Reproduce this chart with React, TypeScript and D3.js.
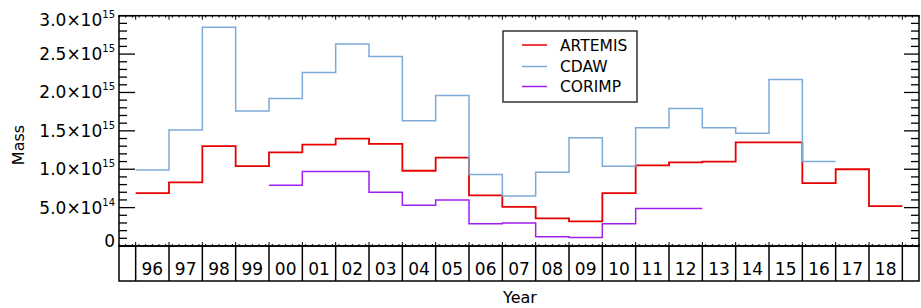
import * as d3 from "d3";
import React from "react";

// mass in units of 1e15, one value per year
const yearLabels = ["96", "97", "98", "99", "00", "01", "02", "03", "04", "05", "06", "07",
  "08", "09", "10", "11", "12", "13", "14", "15", "16", "17", "18"];
const firstYear = 1996;

const artemisStart = 1996;
const artemis = [0.69, 0.83, 1.30, 1.04, 1.22, 1.32, 1.40, 1.33, 0.98, 1.15, 0.66, 0.51,
  0.36, 0.32, 0.69, 1.05, 1.09, 1.10, 1.35, 1.35, 0.82, 1.00, 0.52];

const cdawStart = 1996;
const cdaw = [0.99, 1.51, 2.85, 1.76, 1.92, 2.26, 2.63, 2.47, 1.63, 1.96, 0.93, 0.65,
  0.96, 1.41, 1.04, 1.54, 1.79, 1.54, 1.47, 2.17, 1.10];

const corimpStart = 2000;
const corimp = [0.79, 0.97, 0.97, 0.70, 0.53, 0.60, 0.29, 0.30, 0.12, 0.11, 0.29, 0.49, 0.49];

const yTicks = [0, 0.5, 1.0, 1.5, 2.0, 2.5, 3.0];
const yTickText: [string, string][] = [
  ["0", ""], ["5.0×10", "14"], ["1.0×10", "15"], ["1.5×10", "15"],
  ["2.0×10", "15"], ["2.5×10", "15"], ["3.0×10", "15"]
];

const series = [
  { name: "ARTEMIS", start: artemisStart, values: artemis, color: "#e60000", width: 1.8 },
  { name: "CDAW", start: cdawStart, values: cdaw, color: "#7eaad8", width: 1.5 },
  { name: "CORIMP", start: corimpStart, values: corimp, color: "#a020f0", width: 1.5 }
];

export default function App() {
  const width = 921;
  const height = 308;
  const left = 119;
  const right = 919;
  const top = 15.7;
  const bottom = 246;
  const boxBottom = 281;
  const font = "'DejaVu Sans', sans-serif";

  const x = d3.scaleLinear().domain([firstYear - 1, firstYear + yearLabels.length]).range([left, right]);
  const y = d3.scaleLinear().domain([0, 3.0]).range([bottom, top]);

  const line = d3
    .line<{ x: number; v: number }>()
    .x((d) => x(d.x))
    .y((d) => y(d.v))
    .curve(d3.curveStepAfter);

  const stepPoints = (start: number, values: number[]) => {
    const pts = values.map((v, i) => ({ x: start + i - 0.5, v }));
    pts.push({ x: start + values.length - 0.5, v: values[values.length - 1] });
    return pts;
  };

  // cell boundaries on the x axis (half years)
  const bounds = d3.range(firstYear - 0.5, firstYear + yearLabels.length, 1);
  const minorX = d3.range(firstYear - 1, firstYear + yearLabels.length + 0.001, 0.2)
    .filter((v) => Math.abs((v - 0.5) - Math.round(v - 0.5)) > 0.01);
  const minorY = d3.range(0, 3.0001, 0.1).filter((v) => Math.abs(v * 2 - Math.round(v * 2)) > 0.01);

  const legendX = 503;
  const legendY = 31;
  const rowY = [45, 66.5, 86.5];

  return (
    <svg width={width} height={height} style={{ position: "absolute", left: 0, top: 0, background: "#fff" }}>
      {/* series */}
      {series.map((s) => (
        <path key={s.name} d={line(stepPoints(s.start, s.values)) || ""} fill="none"
          stroke={s.color} strokeWidth={s.width} />
      ))}

      {/* frame */}
      <rect x={left} y={top} width={right - left} height={bottom - top} fill="none" stroke="#000" strokeWidth={1.5} />

      {/* y ticks left & right */}
      <g stroke="#000" strokeWidth={1.3}>
        {yTicks.map((t) => (
          <g key={t}>
            <line x1={left} x2={left + 16} y1={y(t)} y2={y(t)} />
            <line x1={right} x2={right - 15} y1={y(t)} y2={y(t)} />
          </g>
        ))}
        {minorY.map((t) => (
          <g key={t}>
            <line x1={left} x2={left + 8} y1={y(t)} y2={y(t)} />
            <line x1={right} x2={right - 8} y1={y(t)} y2={y(t)} />
          </g>
        ))}
      </g>

      {/* x ticks top & bottom */}
      <g stroke="#000" strokeWidth={1}>
        {bounds.map((b) => (
          <g key={b}>
            <line x1={x(b)} x2={x(b)} y1={bottom} y2={bottom - 4} />
            <line x1={x(b)} x2={x(b)} y1={top} y2={top + 4} />
          </g>
        ))}
        {minorX.map((b) => (
          <g key={b}>
            <line x1={x(b)} x2={x(b)} y1={bottom} y2={bottom - 2} />
            <line x1={x(b)} x2={x(b)} y1={top} y2={top + 2} />
          </g>
        ))}
      </g>

      {/* year label box */}
      <g stroke="#000" strokeWidth={1.5}>
        <rect x={left} y={bottom} width={right - left} height={boxBottom - bottom} fill="none" />
        {bounds.map((b) => (
          <line key={b} x1={x(b)} x2={x(b)} y1={bottom} y2={boxBottom} />
        ))}
      </g>
      <g fontFamily={font} fontSize={17} textAnchor="middle" fill="#000">
        {yearLabels.map((lab, i) => (
          <text key={lab} x={x(firstYear + i)} y={275}>{lab}</text>
        ))}
      </g>

      {/* y tick labels */}
      <g fontFamily={font} fill="#000" textAnchor="end">
        {yTicks.map((t, i) => (
          <text key={t} x={115} y={Math.min(Math.max(y(t) + 6, 26), 247)} fontSize={17}>
            {yTickText[i][0]}
            {yTickText[i][1] && (
              <tspan fontSize={10} dy={-8}>{yTickText[i][1]}</tspan>
            )}
          </text>
        ))}
      </g>

      {/* axis titles */}
      <text x={520} y={303} fontFamily={font} fontSize={16} textAnchor="middle">Year</text>
      <text transform="translate(24,145) rotate(-90)" fontFamily={font} fontSize={16} textAnchor="middle">Mass</text>

      {/* legend */}
      <rect x={legendX} y={legendY} width={134} height={71} fill="#fff" stroke="#333" strokeWidth={1.5} />
      {series.map((s, i) => (
        <g key={s.name}>
          <line x1={522} x2={547} y1={rowY[i]} y2={rowY[i]} stroke={s.color} strokeWidth={1.5} />
          <text x={560} y={rowY[i] + 5.5} fontFamily={font} fontSize={15.5} fill="#000">{s.name}</text>
        </g>
      ))}
    </svg>
  );
}
